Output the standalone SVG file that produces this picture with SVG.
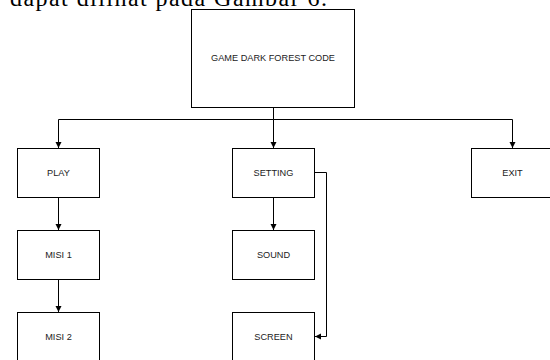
<svg xmlns="http://www.w3.org/2000/svg" width="550" height="360" viewBox="0 0 550 360">
  <defs>
    <marker id="arr" markerUnits="userSpaceOnUse" markerWidth="7" markerHeight="7" refX="6" refY="3" orient="auto">
      <path d="M0,0 L6,3 L0,6 z" fill="#000"/>
    </marker>
    <style>
      .box { fill: #fff; stroke: #000; stroke-width: 1; }
      .lbl { font-family: "Liberation Sans", Arial, sans-serif; font-size: 9.2px; fill: #222; text-anchor: middle; dominant-baseline: central; }
      .conn { fill: none; stroke: #000; stroke-width: 1; }
      .arrow { marker-end: url(#arr); }
      .caption { font-family: "Liberation Serif", "Times New Roman", serif; font-size: 24px; fill: #000; }
    </style>
  </defs>
  <rect width="550" height="360" fill="#fff"/>
  <text class="caption" x="10" y="5.5" textLength="317" lengthAdjust="spacing">dapat dilihat pada Gambar 6.</text>

  <g id="connectors">
    <path class="conn" d="M273.5,107.5 V119.5"/>
    <path class="conn arrow" d="M273.5,119.5 H58.5 V148"/>
    <path class="conn arrow" d="M273.5,119.5 V148"/>
    <path class="conn arrow" d="M273.5,119.5 H512.5 V148"/>
    <path class="conn arrow" d="M58.5,197.5 V230"/>
    <path class="conn arrow" d="M58.5,279.5 V312"/>
    <path class="conn arrow" d="M273.5,197.5 V230"/>
    <path class="conn arrow" d="M314.5,172.5 H326.5 V336.5 H315"/>
  </g>

  <g id="root">
    <rect class="box" x="191.5" y="9.5" width="163" height="98"/>
    <text class="lbl" x="273" y="58">GAME DARK FOREST CODE</text>
  </g>
  <g id="play">
    <rect class="box" x="17.5" y="148.5" width="82" height="49"/>
    <text class="lbl" x="58.5" y="173">PLAY</text>
  </g>
  <g id="setting">
    <rect class="box" x="232.5" y="148.5" width="82" height="49"/>
    <text class="lbl" x="273.5" y="173">SETTING</text>
  </g>
  <g id="exit">
    <rect class="box" x="471.5" y="148.5" width="82" height="49"/>
    <text class="lbl" x="512.5" y="173">EXIT</text>
  </g>
  <g id="misi1">
    <rect class="box" x="17.5" y="230.5" width="82" height="49"/>
    <text class="lbl" x="58.5" y="255">MISI 1</text>
  </g>
  <g id="misi2">
    <rect class="box" x="17.5" y="312.5" width="82" height="49"/>
    <text class="lbl" x="58.5" y="337">MISI 2</text>
  </g>
  <g id="sound">
    <rect class="box" x="232.5" y="230.5" width="82" height="49"/>
    <text class="lbl" x="273.5" y="255">SOUND</text>
  </g>
  <g id="screen">
    <rect class="box" x="232.5" y="312.5" width="82" height="49"/>
    <text class="lbl" x="273.5" y="337">SCREEN</text>
  </g>
</svg>
